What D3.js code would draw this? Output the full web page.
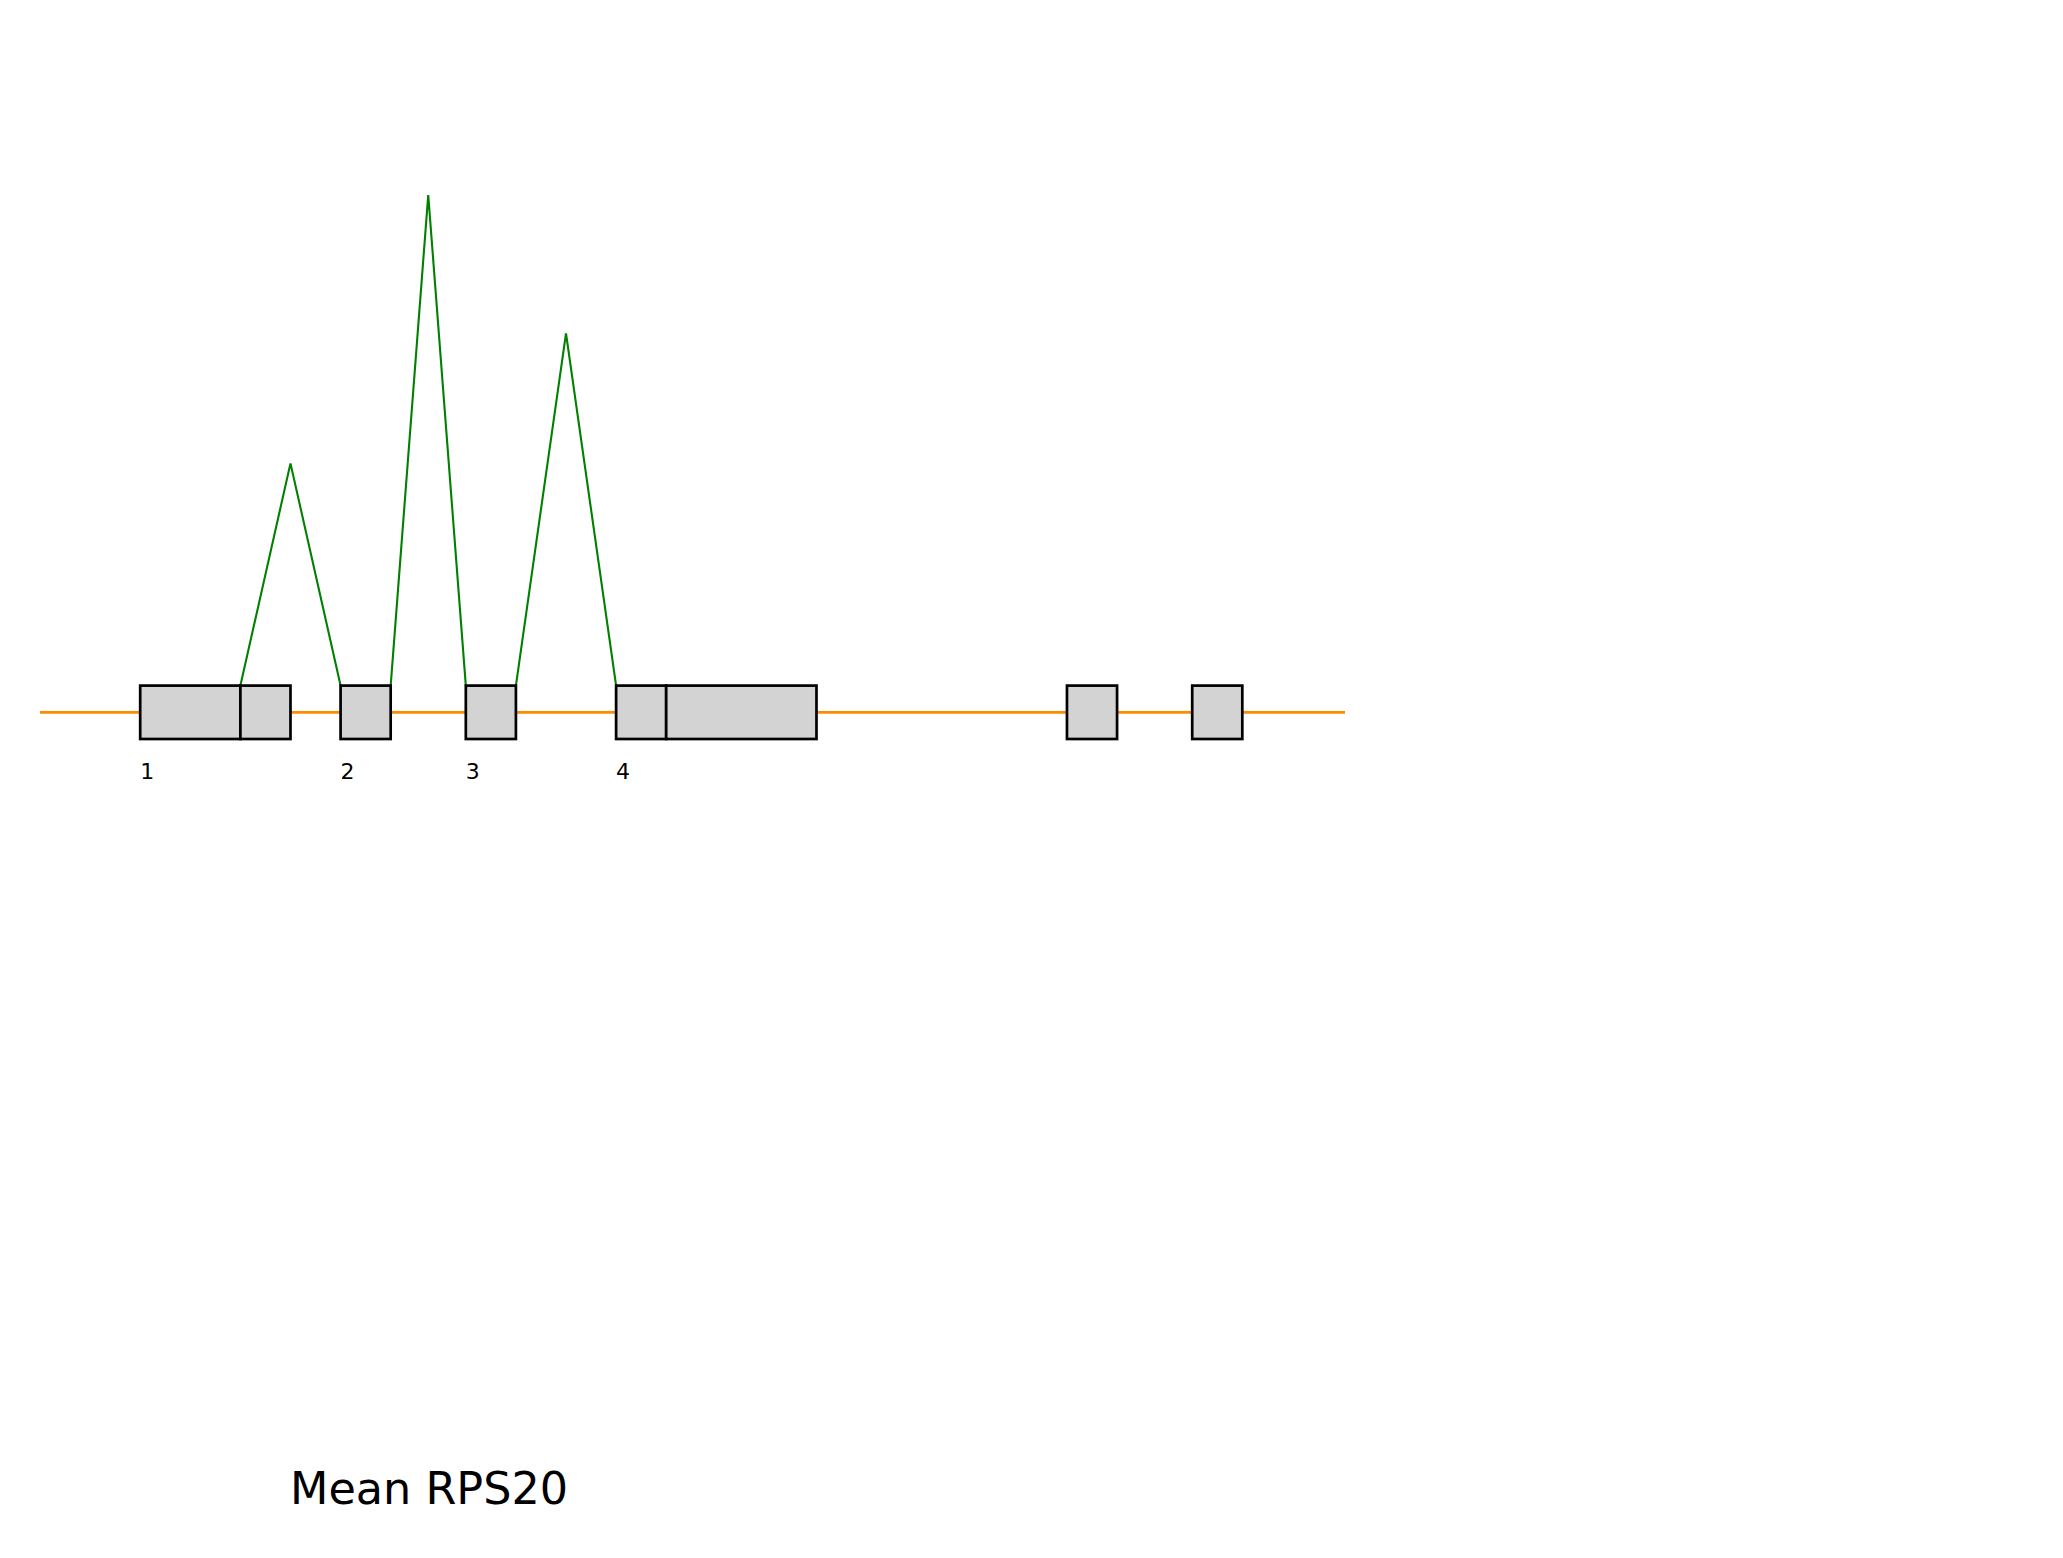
<!DOCTYPE html>
<html>
<head>
<meta charset="utf-8">
<script src="https://cdn.jsdelivr.net/npm/d3@7"></script>
<style>
  html, body { margin: 0; padding: 0; background: #ffffff; }
  svg { display: block; }
</style>
</head>
<body>
<script>
// ---- data (genomic positions in arbitrary units) ----
const geneSpan = [0, 52.1];
// exon segments: [start, end] (exon 1 and exon 4 are drawn as two adjacent blocks)
const exonSegments = [[4, 8], [8, 10], [12, 14], [17, 19], [23, 25], [25, 31], [41, 43], [46, 48]];
const exonLabels = ["1", "2", "3", "4"];
const exonLabelPos = [4, 12, 17, 23];
// junctions: donor, acceptor, mean read value
const junctionStart = [8, 14, 19];
const junctionEnd = [12, 17, 23];
const junctionValue = [45.3, 100, 71.8];
const title = "Mean RPS20";

const W = 2063, H = 1558;
const svg = d3.select("body").append("svg").attr("width", W).attr("height", H);

const x = d3.scaleLinear().domain(geneSpan).range([40, 1345]);
const yMid = 712.3;
const boxHalf = 26.7;
const y = d3.scaleLinear().domain([0, 100]).range([yMid - boxHalf, 195]);

// intron backbone
svg.append("line")
  .attr("x1", x(geneSpan[0])).attr("x2", x(geneSpan[1]))
  .attr("y1", yMid).attr("y2", yMid)
  .attr("stroke", "#ff8c00").attr("stroke-width", 2.8);

// junction arcs
const jData = junctionStart.map((s, i) => ({ s, e: junctionEnd[i], v: junctionValue[i] }));
const line = d3.line().x(d => d[0]).y(d => d[1]);
svg.selectAll("path.junction").data(jData).enter().append("path")
  .attr("class", "junction")
  .attr("d", d => line([[x(d.s), y(0)], [x((d.s + d.e) / 2), y(d.v)], [x(d.e), y(0)]]))
  .attr("fill", "none").attr("stroke", "#008000").attr("stroke-width", 2.1);

// exon blocks
svg.selectAll("rect.exon").data(exonSegments).enter().append("rect")
  .attr("class", "exon")
  .attr("x", d => x(d[0])).attr("width", d => x(d[1]) - x(d[0]))
  .attr("y", yMid - boxHalf).attr("height", 2 * boxHalf)
  .attr("fill", "#d3d3d3").attr("stroke", "#000000").attr("stroke-width", 2.7);

// exon labels
svg.selectAll("text.exonlabel").data(exonLabels).enter().append("text")
  .attr("class", "exonlabel")
  .attr("x", (d, i) => x(exonLabelPos[i]))
  .attr("y", 779)
  .attr("font-family", "DejaVu Sans")
  .attr("font-size", 22)
  .attr("fill", "#000")
  .text(d => d);

// title
svg.append("text")
  .attr("x", 290).attr("y", 1504)
  .attr("font-family", "DejaVu Sans")
  .attr("font-size", 44.5)
  .attr("fill", "#000")
  .text(title);
</script>
</body>
</html>
